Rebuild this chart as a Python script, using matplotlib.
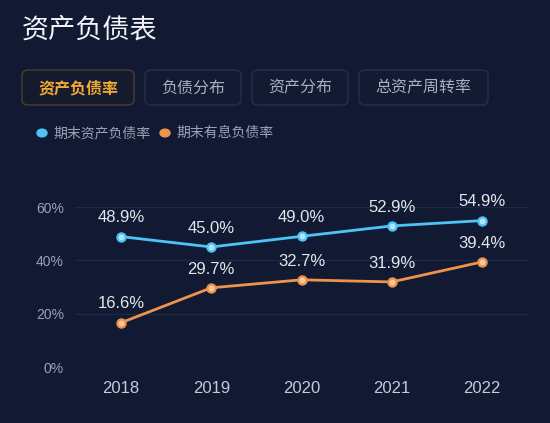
import matplotlib.pyplot as plt
from matplotlib.patches import FancyBboxPatch

plt.rcParams['font.family'] = ['Noto Sans CJK SC', 'DejaVu Sans']

years = ["2018", "2019", "2020", "2021", "2022"]
asset_ratio = [48.9, 45.0, 49.0, 52.9, 54.9]
debt_ratio = [16.6, 29.7, 32.7, 31.9, 39.4]
yticks = [0, 20, 40, 60]
tabs = ["资产负债率", "负债分布", "资产分布", "总资产周转率"]
series_names = ["期末资产负债率", "期末有息负债率"]

bg = "#111a32"
blue = "#4cc4f5"
orange = "#f0934a"
num_font = "Liberation Sans"

W, H = 550, 423
fig = plt.figure(figsize=(5.5, 4.23), dpi=100, facecolor=bg)

# title
fig.text(22 / W, 1 - 30 / H, "资产负债表", color="#f2f3f6", fontsize=19.5,
         va="center", ha="left")

# tab buttons
tab_x = [(22, 134), (145, 241), (252, 348), (359, 488)]
for i, (name, (x0, x1)) in enumerate(zip(tabs, tab_x)):
    active = i == 0
    box = FancyBboxPatch((x0 / W, 1 - 105 / H), (x1 - x0) / W, 35 / H,
                         boxstyle="round,pad=0,rounding_size=0.012",
                         transform=fig.transFigure,
                         facecolor="#151a2c" if active else "#131b33",
                         edgecolor="#4a4230" if active else "#262f4c",
                         linewidth=1)
    fig.patches.append(box)
    fig.text((x0 + x1) / 2 / W, 1 - 88 / H, name,
             color="#f2aa36" if active else "#a9b0c0",
             fontsize=11.5, ha="center", va="center",
             fontweight="bold" if active else "normal")

# legend
for name, col, cx in zip(series_names, [blue, orange], [42, 165]):
    fig.patches.append(plt.Circle((cx / W, 1 - 133 / H), 5 / W,
                                  transform=fig.transFigure, color=col))
    fig.text((cx + 11) / W, 1 - 133 / H, name, color="#9aa2b4",
             fontsize=10, ha="left", va="center")

ax = fig.add_axes([75 / W, 1 - 367 / H, 453 / W, 160 / H])
ax.set_facecolor(bg)
x = list(range(len(years)))

for vals, col in [(asset_ratio, blue), (debt_ratio, orange)]:
    ax.plot(x, vals, color=col, lw=2, zorder=3, clip_on=False)
    ax.scatter(x, vals, s=42, color=col, zorder=4, clip_on=False)
    ax.scatter(x, vals, s=10, color="#e8f4ff" if col == blue else "#ffe6cc",
               alpha=0.6, zorder=5, clip_on=False)
    for xi, v in zip(x, vals):
        ax.annotate(f"{v:.1f}%", (xi, v), xytext=(0, 13.5),
                    textcoords="offset points", ha="center", va="center",
                    color="#e4e6ec", fontsize=12, family=num_font)

ax.set_xlim(-0.51, 4.51)
ax.set_ylim(0, 60)
ax.set_yticks(yticks)
ax.set_yticklabels([f"{t}%" for t in yticks], color="#9aa2b4", fontsize=10,
                   family=num_font)
ax.set_xticks(x)
ax.set_xticklabels(years, color="#c5cad6", fontsize=12, family=num_font)
ax.tick_params(axis="y", length=0, pad=8)
ax.tick_params(axis="x", length=0, pad=10)
ax.grid(axis="y", color="#1e2844", lw=1)
ax.set_axisbelow(True)
for s in ax.spines.values():
    s.set_visible(False)

fig.savefig("out.png", dpi=100, facecolor=bg)
